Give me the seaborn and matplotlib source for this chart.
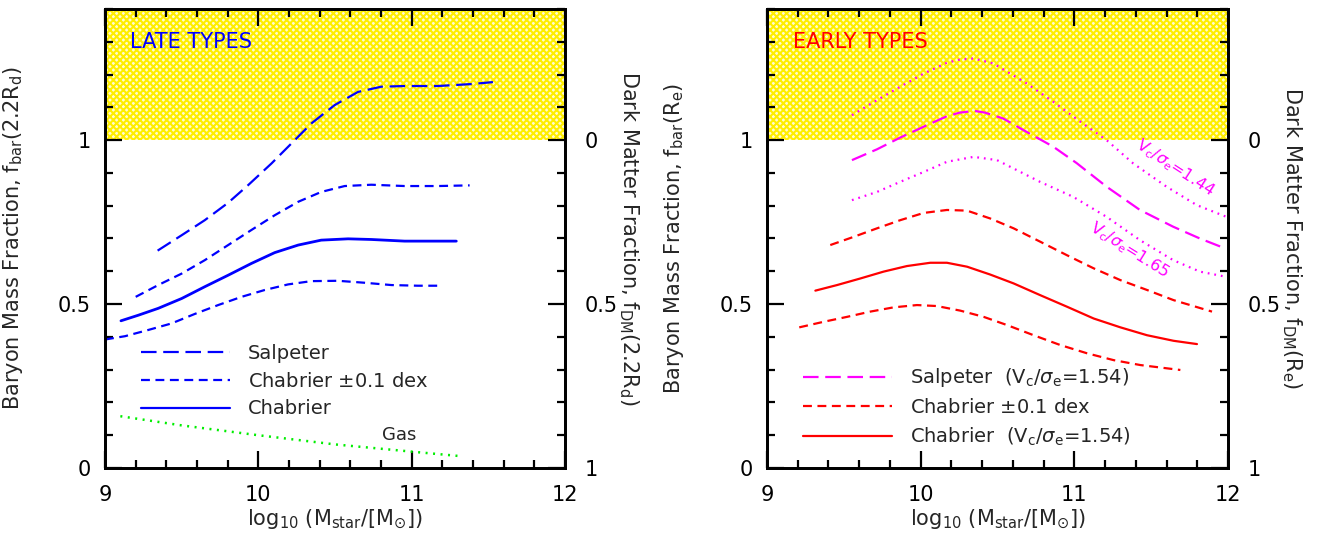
import numpy as np
import pandas as pd
import matplotlib

matplotlib.use("Agg")
import matplotlib.pyplot as plt
import seaborn as sns
from matplotlib.ticker import MultipleLocator
from matplotlib.lines import Line2D

# --- late types (left panel) ---
late_salp_x = [9.343, 9.5, 9.651, 9.803, 9.934, 10.086, 10.216, 10.346, 10.498, 10.65, 10.802, 10.954, 11.17, 11.389, 11.53]
late_salp_y = [0.663, 0.710, 0.756, 0.809, 0.863, 0.929, 0.990, 1.051, 1.107, 1.147, 1.163, 1.165, 1.165, 1.171, 1.177]
late_chab_hi_x = [9.2, 9.347, 9.5, 9.651, 9.803, 9.955, 10.107, 10.26, 10.41, 10.563, 10.737, 10.954, 11.17, 11.378]
late_chab_hi_y = [0.522, 0.558, 0.593, 0.634, 0.680, 0.726, 0.771, 0.812, 0.842, 0.860, 0.864, 0.860, 0.860, 0.862]
late_chab_x = [9.104, 9.217, 9.347, 9.5, 9.651, 9.803, 9.955, 10.107, 10.26, 10.41, 10.585, 10.737, 10.954, 11.291]
late_chab_y = [0.449, 0.466, 0.487, 0.517, 0.553, 0.588, 0.624, 0.657, 0.680, 0.695, 0.699, 0.697, 0.692, 0.692]
late_chab_lo_x = [9.0, 9.13, 9.282, 9.434, 9.586, 9.738, 9.89, 10.042, 10.194, 10.346, 10.52, 10.694, 10.868, 11.04, 11.193]
late_chab_lo_y = [0.392, 0.402, 0.421, 0.441, 0.470, 0.497, 0.522, 0.543, 0.560, 0.570, 0.571, 0.565, 0.558, 0.556, 0.556]
gas_x = [9.1, 9.5, 10.0, 10.5, 11.0, 11.3]
gas_y = [0.158, 0.13, 0.10, 0.072, 0.05, 0.037]

# --- early types (right panel) ---
early_v144_x = [9.553, 9.716, 9.868, 10.02, 10.171, 10.256, 10.345, 10.472, 10.69, 10.863, 11.025, 11.21, 11.383, 11.6, 11.796, 11.99]
early_v144_y = [1.076, 1.122, 1.163, 1.203, 1.236, 1.246, 1.249, 1.234, 1.173, 1.117, 1.061, 1.0, 0.929, 0.858, 0.802, 0.766]
early_salp_x = [9.553, 9.716, 9.868, 10.02, 10.171, 10.256, 10.353, 10.418, 10.537, 10.69, 10.863, 11.015, 11.21, 11.427, 11.643, 11.817, 11.98]
early_salp_y = [0.939, 0.972, 1.008, 1.041, 1.073, 1.084, 1.089, 1.084, 1.066, 1.025, 0.980, 0.930, 0.858, 0.787, 0.736, 0.700, 0.670]
early_v165_x = [9.553, 9.716, 9.868, 10.02, 10.171, 10.345, 10.497, 10.649, 10.776, 10.993, 11.21, 11.427, 11.643, 11.817, 11.99]
early_v165_y = [0.817, 0.842, 0.873, 0.903, 0.934, 0.949, 0.939, 0.903, 0.873, 0.827, 0.766, 0.695, 0.634, 0.599, 0.583]
early_chab_hi_x = [9.412, 9.564, 9.716, 9.868, 10.02, 10.171, 10.302, 10.453, 10.605, 10.779, 10.952, 11.126, 11.3, 11.473, 11.646, 11.896]
early_chab_hi_y = [0.680, 0.705, 0.731, 0.756, 0.778, 0.787, 0.785, 0.761, 0.731, 0.690, 0.649, 0.609, 0.573, 0.543, 0.512, 0.477]
early_chab_x = [9.315, 9.456, 9.607, 9.759, 9.911, 10.063, 10.171, 10.302, 10.453, 10.605, 10.779, 10.952, 11.126, 11.3, 11.473, 11.646, 11.798]
early_chab_y = [0.541, 0.558, 0.578, 0.599, 0.616, 0.626, 0.626, 0.614, 0.590, 0.563, 0.527, 0.492, 0.456, 0.429, 0.405, 0.388, 0.378]
early_chab_lo_x = [9.21, 9.369, 9.521, 9.672, 9.824, 9.976, 10.106, 10.258, 10.41, 10.562, 10.735, 10.909, 11.082, 11.256, 11.43, 11.69]
early_chab_lo_y = [0.429, 0.446, 0.461, 0.477, 0.490, 0.497, 0.494, 0.480, 0.461, 0.436, 0.405, 0.375, 0.350, 0.329, 0.314, 0.299]

LONG = (0, (7, 3))
SHORT = (0, (4, 2.5))
DOT = (0, (0.8, 2.2))

sns.set_theme(style="ticks")
plt.rcParams["font.family"] = ["DejaVu Sans"]
plt.rcParams["mathtext.fontset"] = "dejavusans"
plt.rcParams["hatch.linewidth"] = 1.5
plt.rcParams["axes.linewidth"] = 2.0
plt.rcParams["axes.edgecolor"] = "black"
plt.rcParams["xtick.color"] = "black"
plt.rcParams["ytick.color"] = "black"

fig = plt.figure(figsize=(13.26, 5.41), dpi=100)
ax_l = fig.add_axes([0.0792, 0.1349, 0.3469, 0.8485])
ax_r = fig.add_axes([0.5784, 0.1349, 0.3477, 0.8485])

FS = 15


def curve(ax, x, y, color, ls, lw=1.6):
    df = pd.DataFrame({"x": x, "y": y})
    sns.lineplot(data=df, x="x", y="y", ax=ax, color=color, linestyle=ls,
                 linewidth=lw, sort=False, errorbar=None)


def style_axes(ax, label_left, label_right):
    ax.set_xlim(9, 12)
    ax.set_ylim(0, 1.4)
    ax.axhspan(1.0, 1.4, facecolor="#fffbd0", edgecolor="#ffee00", hatch="xxxxx",
               linewidth=0, zorder=0)
    ax.xaxis.set_minor_locator(MultipleLocator(0.2))
    ax.yaxis.set_minor_locator(MultipleLocator(0.1))
    ax.set_xticks([9, 10, 11, 12])
    ax.set_xticklabels(["9", "10", "11", "12"])
    ax.set_yticks([0, 0.5, 1])
    ax.set_yticklabels(["0", "0.5", "1"])
    ax.tick_params(which="both", direction="in", top=True, right=False,
                   width=1.6, labelsize=FS, colors="black")
    ax.tick_params(which="major", length=12)
    ax.tick_params(which="minor", length=6)
    ax.tick_params(axis="x", pad=12)
    ax.tick_params(axis="y", pad=10)
    ax.set_xlabel(r"log$_{\mathregular{10}}$ (M$_{\mathregular{star}}$/[M$_{\odot}$])", fontsize=FS)
    ax.xaxis.set_label_coords(0.5, -0.085)
    ax.set_ylabel(label_left, fontsize=FS)
    ax.yaxis.set_label_coords(-0.175, 0.5)

    tw = ax.twinx()
    tw.set_ylim(1.0, -0.4)
    tw.set_yticks([0, 0.5, 1])
    tw.set_yticklabels(["0", "0.5", "1"])
    tw.yaxis.set_minor_locator(MultipleLocator(0.1))
    tw.tick_params(which="both", direction="in", width=1.6, labelsize=FS, pad=14,
                   colors="black")
    tw.tick_params(which="major", length=12)
    tw.tick_params(which="minor", length=6)
    tw.set_ylabel(label_right, fontsize=FS, rotation=-90)
    tw.yaxis.set_label_coords(1.165, 0.5)
    return tw


# left panel: late types
style_axes(ax_l, r"Baryon Mass Fraction, f$_{\mathregular{bar}}$(2.2R$_{\mathregular{d}}$)",
           r"Dark Matter Fraction, f$_{\mathregular{DM}}$(2.2R$_{\mathregular{d}}$)")
blue = "#0000ff"
curve(ax_l, late_salp_x, late_salp_y, blue, LONG)
curve(ax_l, late_chab_hi_x, late_chab_hi_y, blue, SHORT)
curve(ax_l, late_chab_lo_x, late_chab_lo_y, blue, SHORT)
curve(ax_l, late_chab_x, late_chab_y, blue, "-", lw=2.0)
curve(ax_l, gas_x, gas_y, "#00ee00", DOT, lw=1.8)
ax_l.text(10.92, 0.10, "Gas", fontsize=FS - 2, ha="center", va="center")
ax_l.text(9.16, 1.30, "LATE TYPES", color=blue, fontsize=FS, ha="left", va="center")
h_l = [Line2D([], [], color=blue, ls=LONG, lw=1.6),
       Line2D([], [], color=blue, ls=SHORT, lw=1.6),
       Line2D([], [], color=blue, ls="-", lw=1.6)]
ax_l.legend(h_l, ["Salpeter", r"Chabrier $\pm$0.1 dex", "Chabrier"], loc="lower left",
            bbox_to_anchor=(0.04, 0.07), frameon=False, fontsize=FS - 1,
            handlelength=4.6, handletextpad=0.9, labelspacing=0.45)

# right panel: early types
style_axes(ax_r, r"Baryon Mass Fraction, f$_{\mathregular{bar}}$(R$_{\mathregular{e}}$)",
           r"Dark Matter Fraction, f$_{\mathregular{DM}}$(R$_{\mathregular{e}}$)")
magenta = "#ff00ff"
red = "#ff0000"
curve(ax_r, early_v144_x, early_v144_y, magenta, DOT, lw=1.6)
curve(ax_r, early_salp_x, early_salp_y, magenta, LONG)
curve(ax_r, early_v165_x, early_v165_y, magenta, DOT, lw=1.6)
curve(ax_r, early_chab_hi_x, early_chab_hi_y, red, SHORT)
curve(ax_r, early_chab_x, early_chab_y, red, "-")
curve(ax_r, early_chab_lo_x, early_chab_lo_y, red, SHORT)
ax_r.text(9.17, 1.30, "EARLY TYPES", color=red, fontsize=FS, ha="left", va="center")
ax_r.text(11.655, 0.915, r"V$_{\mathregular{c}}$/$\sigma_{\mathregular{e}}$=1.44", color=magenta,
          fontsize=11.5, rotation=-33, ha="center", va="center", rotation_mode="anchor")
ax_r.text(11.36, 0.665, r"V$_{\mathregular{c}}$/$\sigma_{\mathregular{e}}$=1.65", color=magenta,
          fontsize=11.5, rotation=-32, ha="center", va="center", rotation_mode="anchor")
h_r = [Line2D([], [], color=magenta, ls=LONG, lw=1.6),
       Line2D([], [], color=red, ls=SHORT, lw=1.6),
       Line2D([], [], color=red, ls="-", lw=1.6)]
ax_r.legend(h_r, [r"Salpeter  (V$_{\mathregular{c}}$/$\sigma_{\mathregular{e}}$=1.54)",
                  r"Chabrier $\pm$0.1 dex",
                  r"Chabrier  (V$_{\mathregular{c}}$/$\sigma_{\mathregular{e}}$=1.54)"],
            loc="lower left", bbox_to_anchor=(0.04, 0.005), frameon=False, fontsize=FS - 1,
            handlelength=4.6, handletextpad=0.9, labelspacing=0.45)

fig.savefig("out.png", dpi=100)
